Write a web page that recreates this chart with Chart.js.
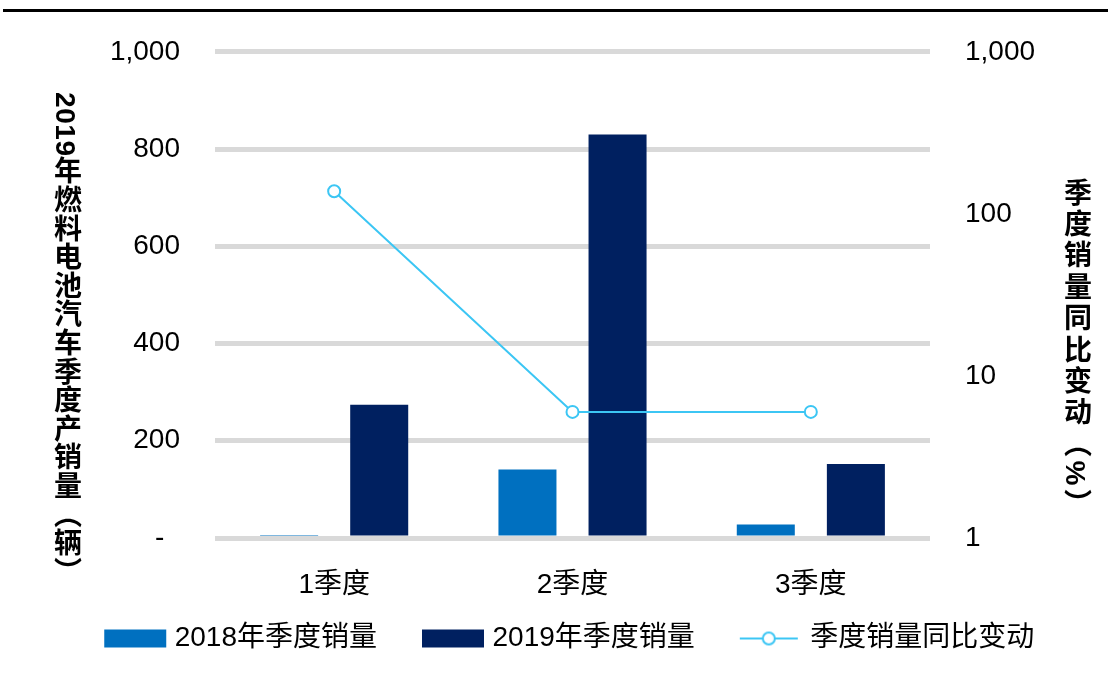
<!DOCTYPE html>
<html>
<head>
<meta charset="utf-8">
<script src="https://cdn.jsdelivr.net/npm/chart.js@4"></script>
<style>
  html, body { margin: 0; padding: 0; background: #fff; }
  #wrap { position: relative; width: 1108px; height: 677px; }
  #topRule { position: absolute; left: 3px; top: 9px; width: 1105px; height: 3px; background: #000; }
  .vtitle {
    position: absolute;
    writing-mode: vertical-rl;
    text-orientation: mixed;
    font-family: "Liberation Sans", "Noto Sans CJK SC", sans-serif;
    font-weight: bold;
    font-size: 28px;
    color: #000;
    line-height: 1;
  }
  #leftTitle { left: 51px; top: 92px; letter-spacing: 0.6px; }
  #rightTitle { left: 1061px; top: 178px; letter-spacing: 3.4px; }
</style>
</head>
<body>
<div id="wrap">
  <canvas id="chart" width="1108" height="677"></canvas>
  <div id="topRule"></div>
  <div id="leftTitle" class="vtitle">2019年燃料电池汽车季度产销量（辆）</div>
  <div id="rightTitle" class="vtitle">季度销量同比变动（%）</div>
</div>
<script>
  const categories = ["1季度", "2季度", "3季度"];
  const sales2018 = [4, 141, 28];
  const sales2019 = [274, 830, 152];
  const yoyChange = [138, 6.0, 6.0];
  const leftTicks = [0, 200, 400, 600, 800, 1000];
  const rightTicks = [1, 10, 100, 1000];

  const FONT = '"Liberation Sans", "Noto Sans CJK SC", sans-serif';
  const C2018 = "#0070c0";
  const C2019 = "#002060";
  const CLINE = "#3cc6f4";

  function fmt(v) {
    if (v === 0) return "-  ";
    return v.toLocaleString("en-US");
  }

  // legend swatches: 62px mark sitting at the right of a wider canvas,
  // so the gap between legend items stays wide
  function swatch(draw) {
    const c = document.createElement("canvas");
    c.width = 100;
    c.height = 20;
    draw(c.getContext("2d"), 37);
    return c;
  }
  const legendStyles = [
    swatch((g, x) => { g.fillStyle = C2018; g.fillRect(x, 1, 62, 18); }),
    swatch((g, x) => { g.fillStyle = C2019; g.fillRect(x, 1, 62, 18); }),
    swatch((g, x) => {
      g.strokeStyle = CLINE;
      g.lineWidth = 2;
      g.beginPath();
      g.moveTo(x, 10);
      g.lineTo(x + 58, 10);
      g.stroke();
      g.beginPath();
      g.arc(x + 29, 10, 6, 0, Math.PI * 2);
      g.fillStyle = "#fff";
      g.fill();
      g.stroke();
    }),
  ];

  new Chart(document.getElementById("chart").getContext("2d"), {
    data: {
      labels: categories,
      datasets: [
        {
          type: "bar",
          label: "2018年季度销量",
          data: sales2018,
          backgroundColor: C2018,
          yAxisID: "y",
          order: 2,
          categoryPercentage: 0.756,
          barPercentage: 0.644,
        },
        {
          type: "bar",
          label: "2019年季度销量",
          data: sales2019,
          backgroundColor: C2019,
          yAxisID: "y",
          order: 2,
          categoryPercentage: 0.756,
          barPercentage: 0.644,
        },
        {
          type: "line",
          label: "季度销量同比变动",
          data: yoyChange,
          borderColor: CLINE,
          borderWidth: 2,
          backgroundColor: "#fff",
          pointRadius: 6,
          pointBorderWidth: 2,
          pointBackgroundColor: "#fff",
          pointBorderColor: CLINE,
          yAxisID: "y1",
          order: 0,
          tension: 0,
        },
      ],
    },
    options: {
      responsive: false,
      animation: false,
      layout: { padding: { top: 50, left: 0, right: 0, bottom: 14.5 } },
      plugins: {
        tooltip: { enabled: false },
        legend: {
          position: "bottom",
          labels: {
            usePointStyle: true,
            pointStyleWidth: 87,
            boxHeight: 18,
            padding: 14.5,
            color: "#000",
            font: { family: FONT, size: 28 },
            generateLabels: (chart) =>
              chart.data.datasets.map((ds, i) => ({
                text: ds.label,
                pointStyle: legendStyles[i],
                fillStyle: "#fff",
                strokeStyle: "#fff",
                lineWidth: 0,
                hidden: false,
                datasetIndex: i,
              })),
          },
        },
      },
      scales: {
        x: {
          grid: { display: false, drawTicks: false },
          border: { display: false },
          ticks: { color: "#000", padding: 30, font: { family: FONT, size: 28 } },
          afterFit: (s) => { s.height = 72; },
        },
        y: {
          position: "left",
          min: 0,
          max: 1000,
          afterBuildTicks: (s) => { s.ticks = leftTicks.map((v) => ({ value: v })); },
          grid: { color: "#d9d9d9", lineWidth: 5, drawTicks: false },
          border: { display: false },
          ticks: {
            color: "#000",
            padding: 35,
            font: { family: FONT, size: 28 },
            callback: (v) => fmt(v),
          },
          afterFit: (s) => { s.width = 215; },
        },
        y1: {
          type: "logarithmic",
          position: "right",
          min: 1,
          max: 1000,
          afterBuildTicks: (s) => { s.ticks = rightTicks.map((v) => ({ value: v })); },
          grid: { display: false, drawTicks: false },
          border: { display: false },
          ticks: {
            color: "#000",
            padding: 35,
            font: { family: FONT, size: 28 },
            callback: (v) => fmt(v),
          },
          afterFit: (s) => { s.width = 178; },
        },
      },
    },
  });
</script>
</body>
</html>
